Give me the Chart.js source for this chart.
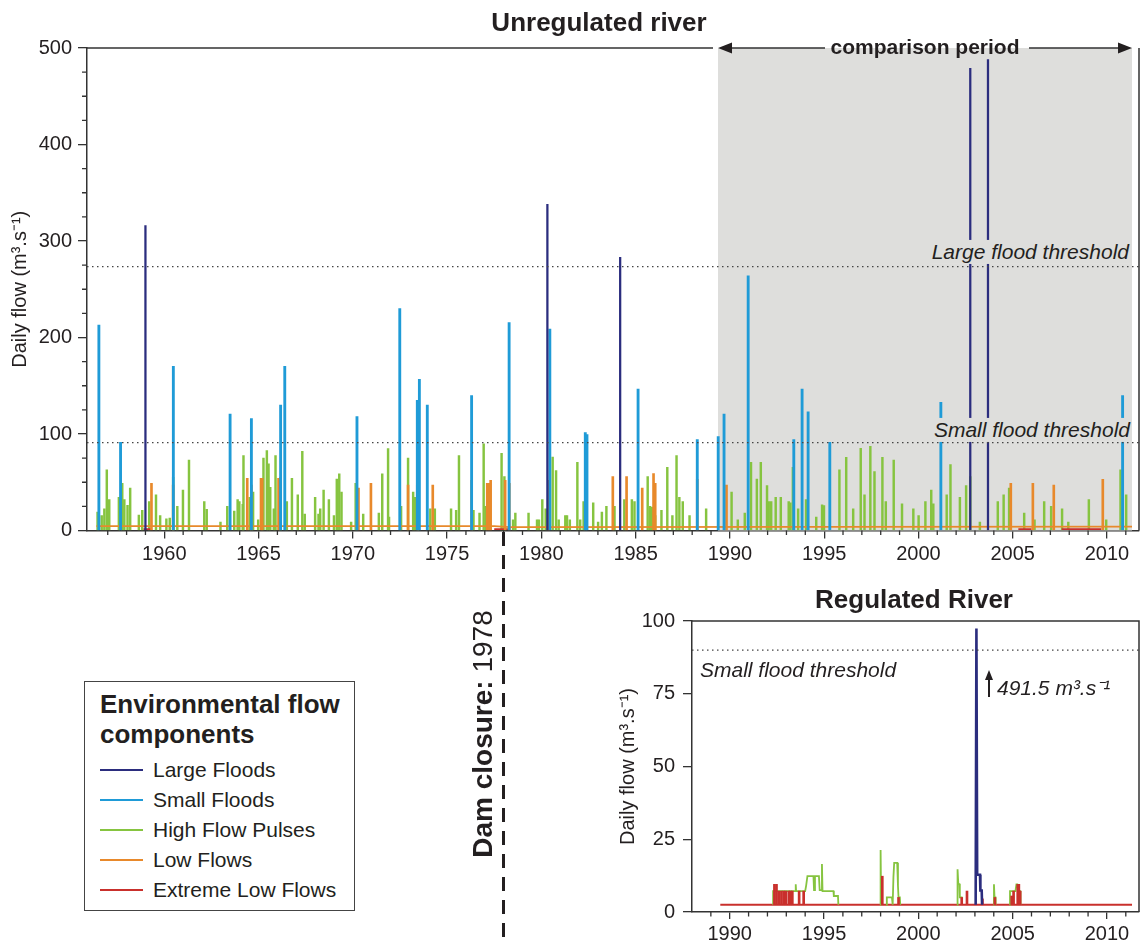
<!DOCTYPE html>
<html>
<head>
<meta charset="utf-8">
<title>Environmental flow components – unregulated vs regulated river</title>
<script src="https://cdn.jsdelivr.net/npm/chart.js@4.4.1/dist/chart.umd.min.js"></script>
<style>
  html, body { margin: 0; padding: 0; background: #fff; }
  body { position: relative; width: 1140px; height: 945px; overflow: hidden;
         font-family: "Liberation Sans", Arial, sans-serif; color: #231f20; }
  canvas { position: absolute; display: block; }
  .txt { position: absolute; white-space: nowrap; line-height: 1.15; }
  .mid { transform: translate(-50%, -50%); }
  .vmid { transform: translateY(-50%); }
  .title { font-weight: bold; font-size: 26px; }
  .thr { font-style: italic; font-size: 21px; }
  .shade { background: #dededc; padding: 0 2px; }
  #dam { position: absolute; width: 3px; top: 532px; height: 413px;
         background: repeating-linear-gradient(to bottom, #231f20 0 14px, transparent 14px 23px); }
  #damLabel { font-size: 28px; transform: translate(-50%, -50%) rotate(-90deg); }
  #legend { position: absolute; left: 84px; top: 681px; width: 269px; height: 228px;
            border: 1.5px solid #444; background: #fff; }
  #legend .lt { position: absolute; left: 15px; top: 7px; font-weight: bold; font-size: 26px; line-height: 30px; }
  #legend .le { position: absolute; left: 0; height: 30px; width: 260px; font-size: 21px; line-height: 30px; }
  #legend .sw { position: absolute; left: 15px; top: 14px; width: 43px; height: 2px; }
  #legend .nm { position: absolute; left: 68px; top: 0; }
  #peakArrow { position: absolute; left: 988px; top: 677px; width: 1.6px; height: 20px; background: #231f20; }
  #peakHead { position: absolute; left: 984.5px; top: 670px; width: 0; height: 0;
              border-left: 4.3px solid transparent; border-right: 4.3px solid transparent; border-bottom: 10px solid #231f20; }
</style>
</head>
<body>
<canvas id="unregChart" width="1140" height="580" style="left:0;top:0"></canvas>
<canvas id="regChart" width="580" height="345" style="left:560px;top:600px"></canvas>

<div class="txt title mid" style="left:599px;top:23px">Unregulated river</div>
<div class="txt mid" style="left:925px;top:47px;font-weight:bold;font-size:21px">comparison period</div>
<div class="txt thr shade vmid" style="right:9px;top:252px">Large flood threshold</div>
<div class="txt thr shade vmid" style="right:8px;top:430px">Small flood threshold</div>

<div class="txt title mid" style="left:914px;top:600px">Regulated River</div>
<div class="txt thr vmid" style="left:700px;top:670px">Small flood threshold</div>
<div id="peakHead"></div><div id="peakArrow"></div>
<div class="txt thr vmid" id="peakLabel" style="left:997px;top:688px"></div>

<div id="dam"></div>
<div class="txt" id="damLabel" style="left:483px;top:734px"><b>Dam closure:</b> 1978</div>

<div id="legend">
  <div class="lt">Environmental flow<br>components</div>
  <div class="le" style="top:73px"><span class="sw" style="background:#2b2d7e"></span><span class="nm">Large Floods</span></div>
  <div class="le" style="top:103px"><span class="sw" style="background:#1f9bd7"></span><span class="nm">Small Floods</span></div>
  <div class="le" style="top:133px"><span class="sw" style="background:#86c440"></span><span class="nm">High Flow Pulses</span></div>
  <div class="le" style="top:163px"><span class="sw" style="background:#e8892b"></span><span class="nm">Low Flows</span></div>
  <div class="le" style="top:193px"><span class="sw" style="background:#c9302c"></span><span class="nm">Extreme Low Flows</span></div>
</div>

<script>
// Environmental flow components – daily flow spikes

// Colours of the flow components
const colLarge = '#2b2d7e';
const colSmall = '#1f9bd7';
const colPulse = '#86c440';
const colLow = '#e8892b';
const colExtreme = '#c9302c';
const axisColor = '#333333';
const textColor = '#231f20';

// ---- Unregulated river (top panel) ----
const unregYearMin = 1955.9;
const unregYearMax = 2011.7;
const unregYearTicks = [1960, 1965, 1970, 1975, 1980, 1985, 1990, 1995, 2000, 2005, 2010];
const unregFlowTicks = [0, 100, 200, 300, 400, 500];
const comparisonStart = 1989.37;
const comparisonEnd = 2011.33;
const damClosureYear = 1978;
const largeFloodThreshold = 273.5;
const smallFloodThreshold = 91;

const largeFloodYears = [1959.0, 1980.32, 1984.18, 2002.75, 2003.69];
const largeFloodFlow = [316, 338, 283, 479, 488];

const smallFloodYears = [1956.53, 1957.68, 1960.48, 1963.49, 1964.62, 1966.17, 1966.39, 1970.22, 1972.49,
  1973.42, 1973.53, 1973.95, 1976.30, 1978.29, 1980.45, 1982.33, 1982.42, 1985.13, 1988.27, 1989.38,
  1989.69, 1990.97, 1993.39, 1993.83, 1994.15, 1995.30, 2001.19, 2010.83];
const smallFloodFlow = [213, 91.4, 170, 120.7, 116, 130, 170, 118, 230,
  135, 156.6, 130, 139.7, 215.5, 208.6, 101.4, 99.3, 146.5, 94.1, 97.2,
  120.7, 264, 94.1, 146.5, 123, 91.4, 132.8, 139.7];

const highPulseYears = [1956.46, 1956.68, 1956.82, 1956.95, 1957.08, 1957.59, 1957.77, 1957.88, 1958.05, 1958.19,
  1958.65, 1958.83, 1959.20, 1959.56, 1959.78, 1960.11, 1960.29, 1960.47, 1960.69, 1960.99,
  1961.31, 1962.12, 1962.25, 1962.98, 1963.34, 1963.71, 1963.89, 1963.98, 1964.16, 1964.20,
  1964.53, 1964.71, 1964.98, 1965.26, 1965.44, 1965.53, 1965.62, 1965.81, 1965.90, 1966.17,
  1966.50, 1966.77, 1967.08, 1967.32, 1967.45, 1968.00, 1968.18, 1968.27, 1968.45, 1968.73,
  1969.00, 1969.15, 1969.28, 1969.40, 1969.91, 1970.15, 1970.55, 1971.38, 1971.56, 1971.87,
  1971.92, 1972.56, 1972.93, 1973.20, 1973.29, 1973.48, 1974.11, 1974.35, 1975.21, 1975.48,
  1975.63, 1976.40, 1976.72, 1976.94, 1977.04, 1977.89, 1978.04, 1978.50, 1978.62, 1979.32,
  1979.77, 1979.87, 1980.05, 1980.23, 1980.60, 1980.78, 1980.92, 1981.27, 1981.36, 1981.51,
  1981.91, 1982.06, 1982.24, 1982.75, 1983.01, 1983.21, 1983.45, 1983.88, 1984.40, 1984.80,
  1984.94, 1985.64, 1985.77, 1985.86, 1986.04, 1986.37, 1986.68, 1986.95, 1987.17, 1987.32,
  1987.50, 1987.86, 1988.74, 1990.09, 1990.42, 1990.79, 1991.12, 1991.43, 1991.64, 1991.97,
  1992.06, 1992.19, 1992.43, 1992.70, 1993.12, 1993.21, 1993.34, 1993.62, 1994.04, 1994.58,
  1994.89, 1994.99, 1995.81, 1996.17, 1996.54, 1996.94, 1997.14, 1997.45, 1997.67, 1998.09,
  1998.27, 1998.69, 1999.13, 1999.73, 2000.01, 2000.37, 2000.68, 2000.79, 2001.50, 2001.70,
  2002.20, 2002.53, 2002.75, 2003.26, 2004.21, 2004.52, 2004.81, 2005.61, 2006.16, 2006.67,
  2007.04, 2007.62, 2007.95, 2009.04, 2009.96, 2010.72, 2011.02];
const highPulseFlow = [19, 15.5, 22.4, 62.8, 32, 34.5, 49, 32, 26, 44,
  16, 21, 30, 37, 15.5, 12, 13, 55, 25, 42,
  73, 30, 22, 8.6, 25, 20, 32, 30, 27, 77.6,
  34.5, 39.7, 11, 75, 82.8, 69, 44.8, 22.4, 77.6, 55,
  30, 54, 37, 82, 17, 34.5, 17, 22.4, 42, 32,
  15.5, 53.4, 58.6, 39.7, 8.6, 49, 17, 18, 58.6, 85,
  13.8, 25, 75, 39.7, 34.5, 15.5, 22.4, 22.4, 22.4, 21,
  77.6, 21, 18, 89.7, 25, 80, 56, 11, 18, 18,
  11, 11, 32, 22.4, 76, 62, 11, 15.5, 15.5, 11,
  70.7, 11, 30, 28.6, 8.6, 19, 25, 25, 32, 32,
  30, 56, 25, 24, 15.5, 21, 65.5, 15.5, 77.6, 34.5,
  30, 15.5, 22.4, 39.7, 11, 18, 70.7, 53.4, 70.7, 46.6,
  30, 30, 34.5, 34.5, 30, 28.6, 65.5, 22.4, 32, 13.8,
  26.6, 25.9, 63, 75.9, 22.4, 85.2, 37, 87.2, 61, 75.9,
  30, 73, 27.6, 22.4, 15.5, 30, 42, 27.6, 37, 68.3,
  34.5, 46.6, 55.9, 8.6, 30, 37, 44, 18, 11, 30,
  25, 22.4, 8.6, 32, 11, 63, 37];

const lowFlowYears = [1959.32, 1960.47, 1964.40, 1964.62, 1965.13, 1965.19, 1966.06, 1970.30, 1970.96, 1972.93,
  1973.42, 1974.24, 1976.30, 1977.13, 1977.22, 1977.31, 1978.08, 1978.30, 1980.38, 1983.79,
  1984.52, 1985.35, 1985.95, 1986.04, 1988.27, 1989.82, 2004.90, 2006.07, 2007.18, 2009.78];
const lowFlowFlow = [49, 47, 54, 47, 54, 54, 54, 44, 49, 47,
  47, 47, 52, 49, 49, 52, 52, 49, 52, 56,
  56, 44, 59, 49, 53, 47, 49, 49, 47, 53];

// Baseflow under the spikes (low flow line) and extreme low flow stretches
const lowFlowBaseYears = [1956.4, 1977.5, 1978.3, 2011.33];
const lowFlowBaseFlow = [4.5, 4.5, 3.5, 4];
const extremeLowYears = [1958.9, 1959.35, 1959.35, 1977.5, 1978.35, 1978.35, 2005.3, 2006.0, 2006.0, 2007.6, 2009.7];
const extremeLowFlow = [1.5, 1.5, null, 1.5, 1.5, null, 1.5, 1.5, null, 1.5, 1.5];

// ---- Regulated river (bottom panel) ----
const regYearMin = 1988.0;
const regYearMax = 2011.7;
const regYearTicks = [1990, 1995, 2000, 2005, 2010];
const regFlowTicks = [0, 25, 50, 75, 100];
const regSmallFloodThreshold = 90;
const regPeakLabel = '491.5';
const regBaseYears = [1989.5, 2011.33];
const regBaseFlow = [2.5, 2.5];

const regExtremeYears = [1992.37, 1992.48, 1992.6, 1992.74, 1992.86, 1992.97, 1993.13, 1993.22, 1993.32, 1993.68,
  1993.92, 1998.09, 1998.95, 2002.3, 2002.58, 2003.4, 2004.06, 2004.95, 2005.05, 2005.27, 2005.33, 2005.4];
const regExtremeFlow = [9.5, 9.5, 7.2, 7.2, 7.2, 7.2, 7.2, 7.2, 7.2, 7.2,
  7.2, 12.3, 5, 5, 7.2, 4.5, 5, 5.5, 7.2, 9.5, 9.5, 7.2];

const regPulseYears = [1992.3, 1992.3, 1993.48, 1993.5, 1993.52, 1994.0, 1994.05, 1994.12, 1994.44, 1994.47,
  1994.52, 1994.73, 1994.77, 1994.87, 1994.89, 1994.92, 1995.5, 1995.52, 1995.74, 1995.76, 1995.76,
  1997.99, 1998.0, 1998.03, 1998.03,
  1998.31, 1998.33, 1998.6, 1998.64, 1998.68, 1998.72, 1998.88, 1998.92, 1998.95, 1999.02, 1999.04, 1999.04,
  2002.06, 2002.08, 2002.12, 2002.18, 2002.2, 2002.3, 2002.32, 2002.32,
  2003.99, 2004.01, 2004.04, 2004.09, 2004.1, 2004.1,
  2004.85, 2004.86, 2005.15, 2005.2, 2005.25, 2005.3, 2005.4, 2005.42];
const regPulseFlow = [2.5, 7.2, 7.2, 9.5, 7.2, 7.2, 9, 12.3, 12.3, 7.5,
  12.3, 12.3, 7.5, 7.5, 16.5, 7.2, 7.2, 5.5, 5.5, 2.5, null,
  2.5, 21.3, 2.5, null,
  2.5, 5, 5, 2.5, 12, 16.9, 16.9, 9, 5, 5, 2.5, null,
  2.5, 14.7, 9.6, 9.6, 5, 5, 2.5, null,
  2.5, 9.5, 5, 5, 2.5, null,
  2.5, 7.2, 7.2, 9.5, 9.5, 7.2, 7.2, 2.5];

const regLargeYears = [2003.04, 2003.08, 2003.12, 2003.27, 2003.29, 2003.36, 2003.38];
const regLargeFlow = [2.5, 97.4, 12.8, 12.8, 7.4, 7.4, 2.5];

Chart.defaults.font.family = '"Liberation Sans", Arial, sans-serif';
Chart.defaults.color = textColor;

const points = (xs, ys) => xs.map((x, i) => ({ x, y: ys[i] }));
const spikes = (xs, ys, base) => xs.map((x, i) => ({ x, y: base === undefined ? ys[i] : [base, ys[i]] }));

function spikeSet(label, xs, ys, color, width, order, base) {
  return { type: 'bar', label, data: spikes(xs, ys, base), backgroundColor: color, borderWidth: 0,
           barThickness: width, maxBarThickness: width, grouped: false, order };
}
function lineSet(label, xs, ys, color, width, order, dash) {
  return { type: 'line', label, data: points(xs, ys), borderColor: color, borderWidth: width,
           borderDash: dash || [], pointRadius: 0, tension: 0, spanGaps: false, fill: false, order };
}

// Short yearly ticks on the x axis and optional minor ticks on the y axis
function drawMinorTicks(chart, xLen, yStep, yMajor, yLen) {
  const { ctx, chartArea: a, scales: { x, y } } = chart;
  ctx.save();
  ctx.strokeStyle = axisColor;
  ctx.lineWidth = 1.3;
  ctx.beginPath();
  for (let yr = Math.ceil(x.min + 0.2); yr <= x.max; yr++) {
    if (yr % 5 === 0) continue;
    const px = x.getPixelForValue(yr);
    ctx.moveTo(px, a.bottom);
    ctx.lineTo(px, a.bottom + xLen);
  }
  if (yStep) {
    for (let v = yStep; v < y.max; v += yStep) {
      if (v % yMajor === 0) continue;
      const py = y.getPixelForValue(v);
      ctx.moveTo(a.left, py);
      ctx.lineTo(a.left - yLen, py);
    }
  }
  ctx.stroke();
  ctx.restore();
}

function axisOptions(min, max, ticks, opts) {
  return {
    type: 'linear', min, max, offset: false,
    afterBuildTicks: s => { s.ticks = ticks.map(v => ({ value: v })); },
    ticks: { callback: v => String(v), color: textColor, font: { size: 20 }, padding: opts.padding,
             maxRotation: 0, autoSkip: false },
    grid: { drawOnChartArea: false, tickLength: opts.tickLength, color: axisColor, lineWidth: 1.3, offset: false },
    border: { color: axisColor, width: 1.5 }
  };
}

// Comparison-period shading, partial top frame, arrows and minor ticks
const unregDecor = {
  id: 'unregDecor',
  beforeDatasetsDraw(chart) {
    const { ctx, chartArea: a, scales: { x } } = chart;
    const x0 = x.getPixelForValue(comparisonStart);
    const x1 = x.getPixelForValue(comparisonEnd);
    ctx.save();
    ctx.fillStyle = '#dededc';
    ctx.fillRect(x0, a.top, x1 - x0, a.bottom - a.top);
    ctx.restore();
  },
  afterDraw(chart) {
    const { ctx, chartArea: a, scales: { x } } = chart;
    drawMinorTicks(chart, 4.5, 25, 100, 5);
    const x0 = x.getPixelForValue(comparisonStart);
    const x1 = x.getPixelForValue(comparisonEnd);
    const mid = (x0 + x1) / 2;
    const y = a.top;
    ctx.save();
    ctx.strokeStyle = axisColor;
    ctx.fillStyle = textColor;
    ctx.lineWidth = 1.5;
    ctx.beginPath();
    ctx.moveTo(a.left, y); ctx.lineTo(x0 - 5, y);
    ctx.moveTo(a.right, y); ctx.lineTo(a.right, a.bottom);
    ctx.moveTo(x0 + 8, y); ctx.lineTo(mid - 100, y);
    ctx.moveTo(mid + 104, y); ctx.lineTo(x1 - 8, y);
    ctx.stroke();
    ctx.beginPath();
    ctx.moveTo(x0, y); ctx.lineTo(x0 + 14, y - 5.5); ctx.lineTo(x0 + 14, y + 5.5); ctx.closePath();
    ctx.moveTo(x1, y); ctx.lineTo(x1 - 14, y - 5.5); ctx.lineTo(x1 - 14, y + 5.5); ctx.closePath();
    ctx.fill();
    ctx.restore();
  }
};

const unregChart = new Chart(document.getElementById('unregChart'), {
  type: 'bar',
  data: {
    datasets: [
      lineSet('Large flood threshold', [unregYearMin, unregYearMax], [largeFloodThreshold, largeFloodThreshold], '#444', 1.3, 0, [1.5, 3.5]),
      lineSet('Small flood threshold', [unregYearMin, unregYearMax], [smallFloodThreshold, smallFloodThreshold], '#444', 1.3, 0, [1.5, 3.5]),
      spikeSet('Large Floods', largeFloodYears, largeFloodFlow, colLarge, 1.6, 1),
      spikeSet('Small Floods', smallFloodYears, smallFloodFlow, colSmall, 2.2, 2),
      spikeSet('Low Flows', lowFlowYears, lowFlowFlow, colLow, 2, 3),
      lineSet('Extreme Low Flows', extremeLowYears, extremeLowFlow, colExtreme, 1.8, 4),
      lineSet('Low flow base', lowFlowBaseYears, lowFlowBaseFlow, colLow, 1.8, 5),
      spikeSet('High Flow Pulses', highPulseYears, highPulseFlow, colPulse, 1.8, 6)
    ]
  },
  options: {
    responsive: false, animation: false, events: [],
    layout: { padding: { left: 0, right: 1, top: 48, bottom: 1.5 } },
    plugins: { legend: { display: false }, tooltip: { enabled: false } },
    scales: {
      x: Object.assign(axisOptions(unregYearMin, unregYearMax, unregYearTicks, { padding: 4, tickLength: 8 }),
        { afterFit: s => { s.height = 48; } }),
      y: Object.assign(axisOptions(0, 500, unregFlowTicks, { padding: 6, tickLength: 9 }), {
        afterFit: s => { s.width = 87; },
        title: { display: true, text: 'Daily flow (m³.s⁻¹)', color: textColor, font: { size: 20 },
                 padding: { top: 8, bottom: 0 } }
      })
    }
  },
  plugins: [unregDecor]
});

// Frame and minor ticks for the regulated panel
const regDecor = {
  id: 'regDecor',
  afterDraw(chart) {
    const { ctx, chartArea: a } = chart;
    drawMinorTicks(chart, 4.5, 0, 25, 0);
    ctx.save();
    ctx.strokeStyle = axisColor;
    ctx.lineWidth = 1.5;
    ctx.beginPath();
    ctx.moveTo(a.left, a.top); ctx.lineTo(a.right, a.top); ctx.lineTo(a.right, a.bottom);
    ctx.stroke();
    ctx.restore();
  }
};

new Chart(document.getElementById('regChart'), {
  type: 'bar',
  data: {
    datasets: [
      lineSet('Small flood threshold', [regYearMin, regYearMax], [regSmallFloodThreshold, regSmallFloodThreshold], '#444', 1.3, 0, [1.5, 3.5]),
      lineSet('Large Floods', regLargeYears, regLargeFlow, colLarge, 2.6, 1),
      spikeSet('Extreme Low Flows', regExtremeYears, regExtremeFlow, colExtreme, 2, 2, regBaseFlow[0]),
      lineSet('High Flow Pulses', regPulseYears, regPulseFlow, colPulse, 1.8, 3),
      lineSet('Base flow', regBaseYears, regBaseFlow, colExtreme, 2, 4)
    ]
  },
  options: {
    responsive: false, animation: false, events: [],
    layout: { padding: { left: 56, right: 1, top: 21, bottom: 1 } },
    plugins: { legend: { display: false }, tooltip: { enabled: false } },
    scales: {
      x: Object.assign(axisOptions(regYearMin, regYearMax, regYearTicks, { padding: 3, tickLength: 7 }),
        { afterFit: s => { s.height = 32; } }),
      y: Object.assign(axisOptions(0, 100, regFlowTicks, { padding: 8, tickLength: 9 }), {
        afterFit: s => { s.width = 76; },
        title: { display: true, text: 'Daily flow (m³.s⁻¹)', color: textColor, font: { size: 20 },
                 padding: { top: 0, bottom: 0 } }
      })
    }
  },
  plugins: [regDecor]
});

// Dam closure marker sits at 1978 on the unregulated time axis
const damX = unregChart.scales.x.getPixelForValue(damClosureYear);
document.getElementById('dam').style.left = (damX - 1.5) + 'px';
document.getElementById('peakLabel').textContent = regPeakLabel + ' m³.s⁻¹';
</script>
</body>
</html>
